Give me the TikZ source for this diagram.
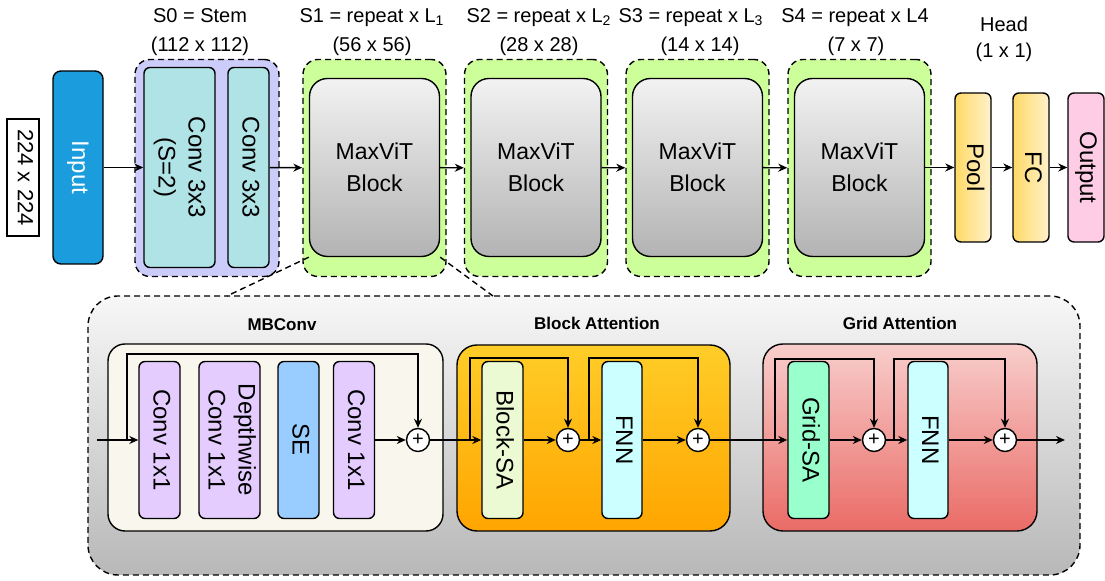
\documentclass[tikz,border=0pt]{standalone}
\usepackage{fontspec}
\setmainfont{Liberation Sans}
\usepackage{graphicx}
\usetikzlibrary{arrows.meta}

\definecolor{inblue}{HTML}{1B9CDC}
\definecolor{stemfill}{HTML}{CCCCFA}
\definecolor{convteal}{HTML}{B0E3E6}
\definecolor{stagegreen}{HTML}{CCFF99}
\definecolor{vitlight}{HTML}{F2F2F2}
\definecolor{vitdark}{HTML}{B3B3B3}
\definecolor{headyel}{HTML}{FFD966}
\definecolor{headpale}{HTML}{FFF2CC}
\definecolor{outpink}{HTML}{FFCCE6}
\definecolor{paneltop}{HTML}{F7F7F7}
\definecolor{panelbot}{HTML}{B8B8B8}
\definecolor{mbcream}{HTML}{F9F7ED}
\definecolor{mbpurple}{HTML}{E5CCFF}
\definecolor{seblue}{HTML}{99CCFF}
\definecolor{battop}{HTML}{FFCD28}
\definecolor{batbot}{HTML}{FFA500}
\definecolor{bsagreen}{HTML}{EBFAD2}
\definecolor{fnncyan}{HTML}{CCFFFF}
\definecolor{gattop}{HTML}{F8CECC}
\definecolor{gatbot}{HTML}{EA6B66}
\definecolor{gsamint}{HTML}{99FFCC}

\newcommand{\vlabel}[1]{\rotatebox{-90}{\begin{tabular}{@{}c@{}}#1\end{tabular}}}

\begin{document}
\begin{tikzpicture}[x=0.5pt,y=-0.5pt,line width=0.7pt,
  arr/.style={-{Stealth[length=4.5pt,width=4pt]}},
  unit/.style={draw, rounded corners=3pt, inner sep=0pt, font=\fontsize{12}{15}\selectfont},
  tall/.style={unit, minimum width=20.5pt, minimum height=78.5pt},
  stagebox/.style={draw, fill=stagegreen, dash pattern=on 3pt off 2pt, rounded corners=7.5pt, minimum width=71.5pt, minimum height=108.5pt},
  maxvit/.style={draw, rounded corners=9pt, top color=vitlight, bottom color=vitdark, minimum width=65pt, minimum height=89pt, align=center, font=\fontsize{11.5}{16}\selectfont},
  headbox/.style={unit, minimum width=18pt, minimum height=74.5pt},
  sum/.style={draw, circle, fill=white, minimum size=11.5pt, inner sep=0pt, font=\fontsize{10}{10}\selectfont},
  title/.style={anchor=base, font=\fontsize{10}{12}\selectfont},
  heading/.style={anchor=base, font=\bfseries\fontsize{8.5}{10}\selectfont}]

\useasboundingbox (0,0) rectangle (1105,581);

% top row
\node[draw, inner sep=0pt, minimum width=16pt, minimum height=58.5pt, font=\fontsize{11}{13}\selectfont] (dim) at (23,177.5) {\vlabel{224 x 224}};
\node[unit, fill=inblue, text=white, rounded corners=4pt, minimum width=25pt, minimum height=96.5pt] (inp) at (78,167.5) {\vlabel{Input}};

\node[draw, fill=stemfill, dash pattern=on 3pt off 2pt, rounded corners=7.5pt, minimum width=72pt, minimum height=108.5pt] (stem) at (207,168) {};
\node[unit, fill=convteal, minimum width=35.5pt, minimum height=100pt] (c1) at (179.5,167.5) {\vlabel{Conv 3x3\\(S=2)}};
\node[unit, fill=convteal, minimum width=20.5pt, minimum height=100pt] (c2) at (248.5,167.5) {\vlabel{Conv 3x3}};

\node[stagebox] (s1) at (374.5,168) {};
\node[stagebox] (s2) at (536,168) {};
\node[stagebox] (s3) at (697.5,168) {};
\node[stagebox] (s4) at (859.5,168) {};
\node[maxvit] (b1) at (374.5,167.5) {MaxViT\\Block};
\node[maxvit] (b2) at (536,167.5) {MaxViT\\Block};
\node[maxvit] (b3) at (697.5,167.5) {MaxViT\\Block};
\node[maxvit] (b4) at (859.5,167.5) {MaxViT\\Block};

\node[headbox, left color=headyel, right color=headpale] (pool) at (973,167.5) {\vlabel{Pool}};
\node[headbox, left color=headyel, right color=headpale] (fc) at (1031,167.5) {\vlabel{FC}};
\node[headbox, fill=outpink] (outp) at (1086,167.5) {\vlabel{Output}};

\node[title] (t0a) at (200,23) {S0 = Stem};
\node[title] (t0b) at (200,52) {(112 x 112)};
\node[title] (t1a) at (372,23) {S1 = repeat x L\textsubscript{1}};
\node[title] (t1b) at (372,52) {(56 x 56)};
\node[title] (t2a) at (539,23) {S2 = repeat x L\textsubscript{2}};
\node[title] (t2b) at (539,52) {(28 x 28)};
\node[title] (t3a) at (691,23) {S3 = repeat x L\textsubscript{3}};
\node[title] (t3b) at (700,52) {(14 x 14)};
\node[title] (t4a) at (855,23) {S4 = repeat x L4};
\node[title] (t4b) at (856,52) {(7 x 7)};
\node[title] (tha) at (1004,31.5) {Head};
\node[title] (thb) at (1004,58) {(1 x 1)};

\draw[arr] (inp) -- (c1);
\draw[arr] (c2) -- (s1);
\draw[arr] (b1) -- (s2);
\draw[arr] (b2) -- (s3);
\draw[arr] (b3) -- (s4);
\draw[arr] (b4) -- (pool);
\draw[arr] (pool) -- (fc);
\draw[arr] (fc) -- (outp);

% detail of one block
\node[draw, dash pattern=on 3pt off 2pt, rounded corners=15pt, top color=paneltop, bottom color=panelbot, minimum width=496pt, minimum height=139.5pt] (panel) at (584,435.5) {};
\coordinate (zl) at (227,296);
\coordinate (zr) at (493,296);
\draw[dash pattern=on 3pt off 2pt] (b1.south west) -- (zl);
\draw[dash pattern=on 3pt off 2pt] (b1.south east) -- (zr);

\node[draw, fill=mbcream, rounded corners=8.5pt, minimum width=167.5pt, minimum height=93.5pt] (mb) at (275.5,437.5) {};
\node[draw, top color=battop, bottom color=batbot, rounded corners=10pt, minimum width=136.5pt, minimum height=93pt] (ba) at (593.5,438) {};
\node[draw, top color=gattop, bottom color=gatbot, rounded corners=10pt, minimum width=137pt, minimum height=93.5pt] (ga) at (900,437.5) {};

\node[heading] (tmb) at (282,331) {MBConv};
\node[heading] (tba) at (597,330) {Block Attention};
\node[heading] (tga) at (900,330) {Grid Attention};

\node[tall, fill=mbpurple] (mc1) at (159.5,440) {\vlabel{Conv 1x1}};
\node[tall, fill=mbpurple, minimum width=30.5pt] (mdw) at (229.5,440) {\vlabel{Depthwise\\Conv 1x1}};
\node[tall, fill=seblue] (mse) at (298.5,440) {\vlabel{SE}};
\node[tall, fill=mbpurple] (mc2) at (354,440) {\vlabel{Conv 1x1}};
\node[sum] (mbp) at (418,440) {+};

\node[tall, fill=bsagreen] (bsa) at (502.5,440) {\vlabel{Block-SA}};
\node[sum] (bap1) at (568,440) {+};
\node[tall, fill=fnncyan, minimum width=20pt] (bfnn) at (622,440) {\vlabel{FNN}};
\node[sum] (bap2) at (698,440) {+};

\node[tall, fill=gsamint] (gsa) at (808.5,440) {\vlabel{Grid-SA}};
\node[sum] (gap1) at (874,440) {+};
\node[tall, fill=fnncyan, minimum width=20pt] (gfnn) at (928,440) {\vlabel{FNN}};
\node[sum] (gap2) at (1005,440) {+};

\coordinate (mbin) at (97,440);
\coordinate (mbs) at (127,440);
\coordinate (bas1) at (470,440);
\coordinate (bas2) at (589,440);
\coordinate (gas1) at (775,440);
\coordinate (gas2) at (894,440);
\coordinate (gaout) at (1065,440);

\draw[arr] (mbin) -- (mc1);
\draw[arr] (mc2) -- (mbp);
\draw[arr] (mbs) -- ++(0,-86) -| (mbp);
\draw[arr] (mbp) -- (bsa);
\draw[arr] (bsa) -- (bap1);
\draw[arr] (bas1) -- ++(0,-82) -| (bap1);
\draw[arr] (bap1) -- (bfnn);
\draw[arr] (bfnn) -- (bap2);
\draw[arr] (bas2) -- ++(0,-82) -| (bap2);
\draw[arr] (bap2) -- (gsa);
\draw[arr] (gsa) -- (gap1);
\draw[arr] (gas1) -- ++(0,-81) -| (gap1);
\draw[arr] (gap1) -- (gfnn);
\draw[arr] (gfnn) -- (gap2);
\draw[arr] (gas2) -- ++(0,-81) -| (gap2);
\draw[arr] (gap2) -- (gaout);

\end{tikzpicture}
\end{document}
